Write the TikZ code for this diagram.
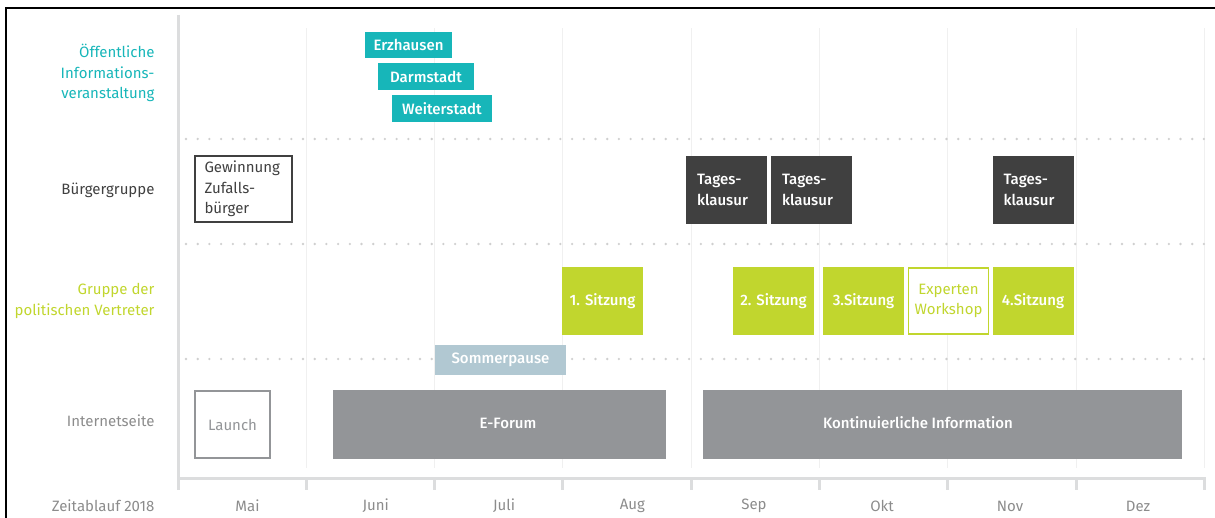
\documentclass[tikz,border=0pt]{standalone}
\usepackage{fontspec}
\setmainfont{Fira Sans}
\newfontfamily\boxfont{Fira Sans Medium}
\definecolor{teal}{HTML}{17B6B9}
\definecolor{lime}{HTML}{C1D62E}
\definecolor{dark}{HTML}{404040}
\definecolor{web}{HTML}{939598}
\definecolor{pause}{HTML}{B1C8D2}
\definecolor{axis}{HTML}{DCDDDE}
\definecolor{grid}{HTML}{F0F0F0}
\definecolor{dots}{HTML}{CFCFCF}
\definecolor{label}{HTML}{8C8C8C}
\begin{document}
\begin{tikzpicture}
    [
    x=1pt, y=-1pt,
    txt/.style={font=\fontsize{15}{20.5}\selectfont},
    box/.style={
      font=\boxfont\fontsize{15}{20.5}\selectfont,
      rectangle,
      inner sep=0pt,
      text=white
    },
    openbox/.style={
      txt,
      fill=white,
      line width=1.5pt
    },
    citybox/.style={box, fill=teal, minimum height=27pt},
    bgbox/.style={box, fill=dark, minimum width=81pt, minimum height=68pt,
      text width=59pt, align=left},
    pvbox/.style={box, fill=lime, minimum width=81pt, minimum height=68pt},
    webbox/.style={box, fill=web, minimum height=69pt},
    rowlabel/.style={txt, anchor=east, align=right},
    monthlabel/.style={txt, text=label}
    ]
    \useasboundingbox (0,0) rectangle (1215,518);
    % frame
    \draw[line width=2pt] (6,518) -- (6,8) -- (1215,8);
    % month grid
    \foreach \i in {1,...,8}
      \draw[grid, line width=1pt] (178+128.3*\i,28) -- (178+128.3*\i,468);
    \foreach \i in {1,...,8}
      \draw[axis, line width=3pt] (178+128.3*\i,478) -- (178+128.3*\i,490);
    \draw[axis, line width=3pt] (178,15) -- (178,490);
    \draw[axis, line width=3pt] (178,478) -- (1206,478);
    % row separators
    \foreach \y in {139,244,359}
      \draw[dots, line width=2.6pt, line cap=round,
        dash pattern=on 0pt off 11.7pt] (186,\y) -- (1210,\y);
    % row labels
    \node (lab-info) at (158,73) [rowlabel, text=teal]
      {Öffentliche\\Informations-\\veranstaltung};
    \node (lab-bg) at (158,190) [rowlabel, text=dark] {Bürgergruppe};
    \node (lab-pv) at (158,301) [rowlabel, text=lime]
      {Gruppe der\\politischen Vertreter};
    \node (lab-web) at (158,421) [rowlabel, text=label] {Internetseite};
    \node (lab-time) at (158,506) [rowlabel, text=label] {Zeitablauf 2018};
    % months
    \node (m-mai) at (247.5,506) [monthlabel] {Mai};
    \node (m-jun) at (375.8,506) [monthlabel] {Juni};
    \node (m-jul) at (504.1,506) [monthlabel] {Juli};
    \node (m-aug) at (632.4,506) [monthlabel] {Aug};
    \node (m-sep) at (754,506) [monthlabel] {Sep};
    \node (m-okt) at (882,506) [monthlabel] {Okt};
    \node (m-nov) at (1010,506) [monthlabel] {Nov};
    \node (m-dez) at (1138,506) [monthlabel] {Dez};
    % public information events
    \node (erzhausen) at (408.5,45) [citybox, minimum width=87pt, minimum height=26pt]
      {Erzhausen};
    \node (darmstadt) at (426,76.5) [citybox, minimum width=96pt] {Darmstadt};
    \node (weiterstadt) at (442,108.5) [citybox, minimum width=100pt] {Weiterstadt};
    % citizens group
    \node (zufall) at (243.5,189) [bgbox, openbox, text=dark, draw=dark,
      minimum width=97pt, minimum height=66pt, text width=78pt]
      {Gewinnung\\Zufalls-\\bürger};
    \node (klausur-a) at (726.5,190) [bgbox] {Tages-\\klausur};
    \node (klausur-b) at (811.5,190) [bgbox] {Tages-\\klausur};
    \node (klausur-c) at (1033,190) [bgbox] {Tages-\\klausur};
    % political representatives
    \node (sitzung-a) at (602.5,301) [pvbox] {1. Sitzung};
    \node (sitzung-b) at (773.5,301) [pvbox] {2. Sitzung};
    \node (sitzung-c) at (863.5,301) [pvbox] {3.Sitzung};
    \node (experten) at (948.5,301) [pvbox, openbox, text=lime, draw=lime,
      minimum width=80pt, minimum height=66pt, align=center]
      {Experten\\Workshop};
    \node (sitzung-d) at (1033,301) [pvbox] {4.Sitzung};
    \node (pause) at (500.5,360) [box, fill=pause, minimum width=131pt,
      minimum height=29pt] {Sommerpause};
    % website
    \node (launch) at (232.5,424.5) [webbox, openbox, text=web, draw=web,
      minimum width=75pt, minimum height=67pt] {Launch};
    \node (forum) at (499.5,424.5) [webbox, minimum width=333pt] {};
    \node (forum-txt) at (508,423) [box] {E-Forum};
    \node (info) at (942.5,424.5) [webbox, minimum width=479pt] {};
    \node (info-txt) at (918,423) [box] {Kontinuierliche Information};
  \end{tikzpicture}
\end{document}
